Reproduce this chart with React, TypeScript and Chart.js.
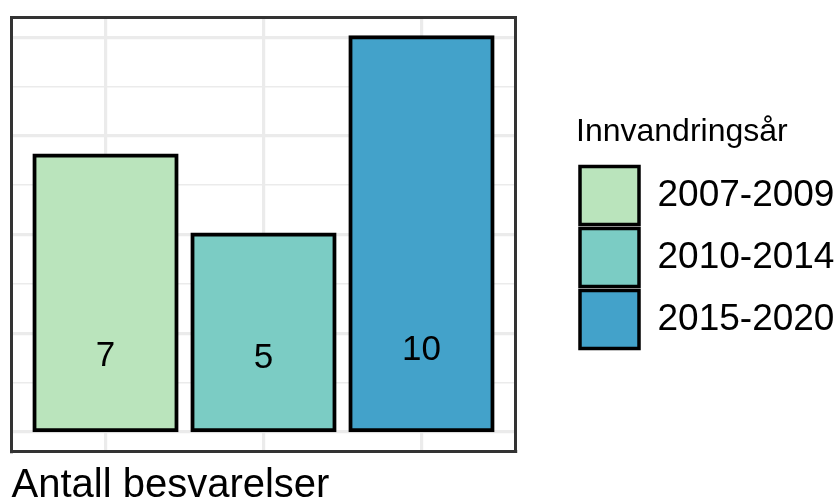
import React, { useEffect, useRef } from "react";
import { Chart, registerables } from "chart.js";

Chart.register(...registerables);

const categories = ["2007-2009", "2010-2014", "2015-2020"];
const values = [7, 5, 10];
const labelPos = [1.92, 1.86, 2.07];
const colors = ["#BAE4BC", "#7BCCC4", "#43A2CA"];
const yTicks = [0, 1.25, 2.5, 3.75, 5, 6.25, 7.5, 8.75, 10];
const xTicks = [1, 2, 3];
const legendTitle = "Innvandringsår";
const xTitle = "Antall besvarelser";

const FONT = "'Liberation Sans', Arial, Helvetica, sans-serif";

export default function App() {
  const ref = useRef<HTMLCanvasElement | null>(null);

  useEffect(() => {
    if (!ref.current) return;
    Chart.defaults.font.family = FONT;
    Chart.defaults.color = "#000";

    const labelPlugin = {
      id: "barLabels",
      afterDatasetsDraw(chart: any) {
        const meta = chart.getDatasetMeta(0);
        const ys = chart.scales.y;
        const ctx = chart.ctx;
        ctx.save();
        ctx.font = `35px ${FONT}`;
        ctx.fillStyle = "#000";
        ctx.textAlign = "center";
        ctx.textBaseline = "middle";
        meta.data.forEach((el: any, i: number) => {
          ctx.fillText(String(values[i]), el.x, ys.getPixelForValue(labelPos[i]));
        });
        ctx.restore();
      },
    };

    const border = { display: true, color: "#333333", width: 3 };

    const chart = new Chart(ref.current, {
      type: "bar",
      data: {
        datasets: [
          {
            data: values.map((v, i) => ({ x: i + 1, y: v })),
            backgroundColor: colors,
            borderColor: "#000",
            borderWidth: 4,
            borderSkipped: false,
            inflateAmount: 2,
            barPercentage: 0.9,
            categoryPercentage: 1,
          },
        ],
      },
      options: {
        responsive: false,
        animation: false,
        devicePixelRatio: 1,
        layout: { padding: 0 },
        scales: {
          x: {
            type: "linear",
            position: "bottom",
            min: 0.405,
            max: 3.595,
            offset: false,
            afterBuildTicks: (s: any) => {
              s.ticks = xTicks.map((v) => ({ value: v }));
            },
            afterFit: (s: any) => {
              s.height = 58.5;
            },
            ticks: { display: false },
            grid: { offset: false, color: "#EBEBEB", lineWidth: 3.2, drawTicks: false },
            border,
            title: {
              display: true,
              text: xTitle,
              align: "start",
              color: "#000",
              font: { size: 40, family: FONT },
              padding: { top: 11, bottom: 0 },
            },
          },
          y: {
            type: "linear",
            position: "left",
            min: -0.5,
            max: 10.5,
            afterBuildTicks: (s: any) => {
              s.ticks = yTicks.map((v) => ({ value: v }));
            },
            afterFit: (s: any) => {
              s.width = 11.5;
            },
            ticks: { display: false },
            grid: {
              color: "#EBEBEB",
              lineWidth: (c: any) => (c.index % 2 === 0 ? 3.2 : 1.6),
              drawTicks: false,
            },
            border,
          },
          x2: {
            type: "linear",
            axis: "x",
            position: "top",
            afterFit: (s: any) => {
              s.height = 17.5;
            },
            ticks: { display: false },
            grid: { display: false, drawTicks: false },
            border,
          },
          y2: {
            type: "linear",
            axis: "y",
            position: "right",
            afterFit: (s: any) => {
              s.width = 60.5;
            },
            ticks: { display: false },
            grid: { display: false, drawTicks: false },
            border,
          },
        },
        plugins: {
          tooltip: { enabled: false },
          legend: {
            display: true,
            position: "right",
            align: "start",
            maxWidth: 261,
            title: {
              display: true,
              text: legendTitle,
              position: "start",
              color: "#000",
              font: { size: 32, family: FONT },
              padding: { top: 116.2, bottom: 7.9 },
            },
            labels: {
              color: "#000",
              font: { size: 37, family: FONT },
              boxWidth: 59,
              boxHeight: 58,
              padding: 4,
              generateLabels: () =>
                categories.map((c, i) => ({
                  text: c,
                  fillStyle: colors[i],
                  strokeStyle: "#000",
                  lineWidth: 3.5,
                  hidden: false,
                  datasetIndex: 0,
                  index: i,
                })),
            },
          },
        },
      } as any,
      plugins: [labelPlugin],
    });
    return () => chart.destroy();
  }, []);

  return (
    <div
      style={{
        position: "absolute",
        left: 0,
        top: 0,
        width: 837,
        height: 501,
        overflow: "hidden",
        background: "#fff",
      }}
    >
      <canvas ref={ref} width={837} height={510} style={{ display: "block" }} />
    </div>
  );
}
